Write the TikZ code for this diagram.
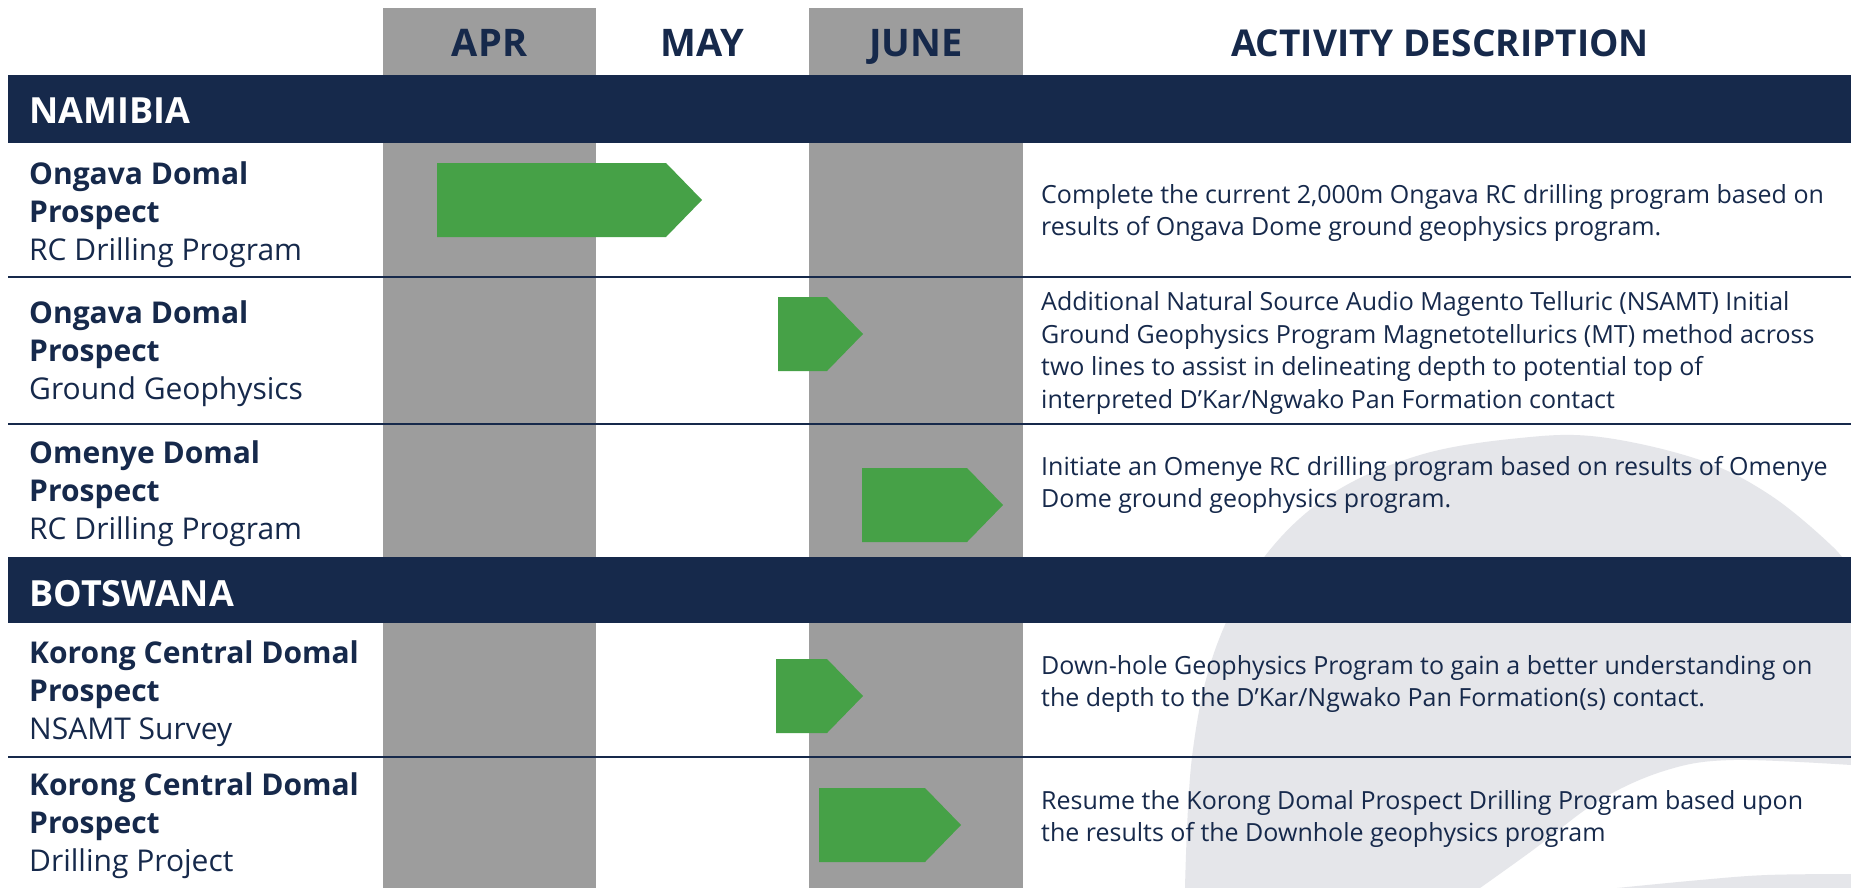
\documentclass[tikz,border=0pt]{standalone}
\usepackage{fontspec}
\setmainfont{Open Sans}
\definecolor{navy}{HTML}{16294B}
\definecolor{colgray}{HTML}{9D9D9D}
\definecolor{taskgreen}{HTML}{46A147}
\definecolor{swooshgray}{HTML}{E5E6EA}

\begin{document}
\begin{tikzpicture}
  [x=1pt, y=-1pt,
   every node/.style={inner sep=0pt, text=navy},
   month/.style={anchor=base, font=\bfseries\fontsize{38}{44}\selectfont},
   country/.style={anchor=base west, text=white, font=\bfseries\fontsize{36}{42}\selectfont},
   prospect/.style={anchor=west, align=left, font=\fontsize{30}{38}\selectfont},
   desc/.style={anchor=west, align=left, font=\fontsize{25}{32.7}\selectfont},
   countrybar/.style={fill=navy},
   rowline/.style={draw=navy, line width=2.5pt},
   taskbar/.style={fill=taskgreen}]
  \useasboundingbox (0,0) rectangle (1851,888);
  \fill[white] (0,0) rectangle (1851,888);

  % background swoosh
  \fill[swooshgray] plot[smooth, tension=0.6] coordinates {(1185,888) (1192,757) (1215,650) (1262,560) (1330,495) (1420,455) (1520,438) (1600,437) (1700,460) (1770,495) (1833,547) (1851,572)}
    -- (1851,765) -- plot[smooth, tension=0.6] coordinates {(1851,765) (1733,760) (1667,770) (1600,800) (1533,850) (1480,888)} -- cycle;
  \fill[swooshgray] plot[smooth, tension=0.6] coordinates {(1617,888) (1700,880) (1767,875) (1851,874)} -- (1851,888) -- cycle;

  % month columns
  \fill[colgray] (383,8) rectangle (596,888);
  \fill[colgray] (809,8) rectangle (1023,888);

  \node[month] (apr) at (489.5,57) {APR};
  \node[month] (may) at (702.5,57) {MAY};
  \node[month] (june) at (916,57) {JUNE};
  \node[month, font=\bfseries\fontsize{37}{44}\selectfont] (activity) at (1440,57) {ACTIVITY DESCRIPTION};

  % country bars
  \fill[countrybar] (8,75) rectangle (1851,143);
  \fill[countrybar] (8,557) rectangle (1851,623);
  \node[country] (namibia) at (29,124) {NAMIBIA};
  \node[country] (botswana) at (29,606) {BOTSWANA};

  % row separators
  \foreach \y in {277,424,757}
  \draw[rowline] (8,\y) -- (1851,\y);

  % prospects
  \node[prospect] (p1) at (29,215) {\textbf{Ongava Domal}\\\textbf{Prospect}\\RC Drilling Program};
  \node[prospect] (p2) at (29,354) {\textbf{Ongava Domal}\\\textbf{Prospect}\\Ground Geophysics};
  \node[prospect] (p3) at (29,494) {\textbf{Omenye Domal}\\\textbf{Prospect}\\RC Drilling Program};
  \node[prospect] (p4) at (29,694) {\textbf{Korong Central Domal}\\\textbf{Prospect}\\NSAMT Survey};
  \node[prospect] (p5) at (29,826) {\textbf{Korong Central Domal}\\\textbf{Prospect}\\Drilling Project};

  % task arrows
  \foreach \x/\y/\w in {437/200/229, 778/334/49, 862/505/105, 776/696/51, 819/825/106}
  \fill[taskbar] (\x,\y-37) -- ++(\w,0) -- ++(36,37) -- ++(-36,37) -- ++(-\w,0) -- cycle;

  % descriptions
  \node[desc] (d1) at (1041,213) {Complete the current 2,000m Ongava RC drilling program based on\\results of Ongava Dome ground geophysics program.};
  \node[desc] (d2) at (1041,353) {Additional Natural Source Audio Magento Telluric (NSAMT) Initial\\Ground Geophysics Program Magnetotellurics (MT) method across\\two lines to assist in delineating depth to potential top of\\interpreted D’Kar/Ngwako Pan Formation contact};
  \node[desc] (d3) at (1041,485) {Initiate an Omenye RC drilling program based on results of Omenye\\Dome ground geophysics program.};
  \node[desc] (d4) at (1041,684) {Down-hole Geophysics Program to gain a better understanding on\\the depth to the D’Kar/Ngwako Pan Formation(s) contact.};
  \node[desc] (d5) at (1041,819) {Resume the Korong Domal Prospect Drilling Program based upon\\the results of the Downhole geophysics program};
\end{tikzpicture}
\end{document}
